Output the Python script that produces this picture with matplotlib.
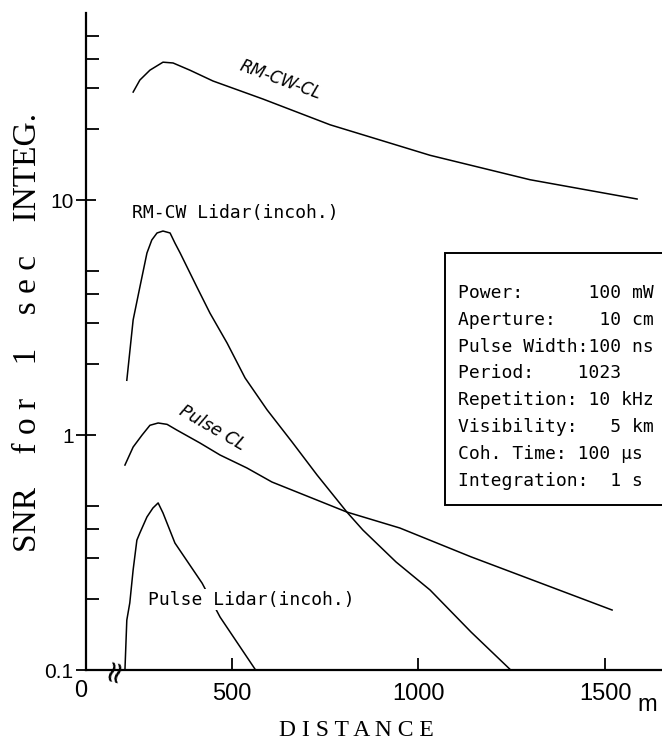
import matplotlib
matplotlib.use("Agg")
import matplotlib.pyplot as plt
from matplotlib.patches import Rectangle
from matplotlib.ticker import FixedLocator, LogLocator, NullFormatter
import matplotlib.transforms as mtransforms

# distance (m) / SNR
rmcwcl_x = [235, 253, 280, 315, 342, 387, 449, 583, 763, 897, 1031, 1299, 1586]
rmcwcl_y = [28.8, 32.4, 35.7, 38.6, 38.3, 35.7, 32.1, 26.9, 20.9, 18.0, 15.5, 12.2, 10.1]

rmcw_x = [218, 235, 253, 272, 285, 299, 315, 334, 347, 361, 406, 441, 487, 535, 594,
          661, 728, 808, 851, 940, 1031, 1141, 1253]
rmcw_y = [1.71, 3.09, 4.26, 5.95, 6.76, 7.24, 7.38, 7.24, 6.56, 5.95, 4.26, 3.30, 2.46, 1.75, 1.28,
          0.934, 0.676, 0.47, 0.394, 0.288, 0.219, 0.145, 0.098]

pcl_x = [213, 235, 259, 280, 302, 326, 352, 414, 468, 540, 607, 808, 950, 1141, 1519]
pcl_y = [0.745, 0.889, 1.0, 1.10, 1.125, 1.11, 1.05, 0.925, 0.822, 0.724, 0.631, 0.470, 0.402, 0.303, 0.180]

pl_x = [213, 218, 226, 235, 245, 253, 272, 288, 302, 315, 347, 420, 468, 567]
pl_y = [0.1, 0.163, 0.193, 0.267, 0.357, 0.383, 0.448, 0.489, 0.514, 0.466, 0.347, 0.234, 0.168, 0.098]

yticks = [0.1, 1, 10]
ytick_labels = ["0.1", "1", "10"]
xticks = [500, 1000, 1500]
xtick_labels = ["500", "1000", "1500"]

info_lines = ["Power:      100 mW",
              "Aperture:    10 cm",
              "Pulse Width:100 ns",
              "Period:    1023",
              "Repetition: 10 kHz",
              "Visibility:   5 km",
              "Coh. Time: 100 \u03bcs",
              "Integration:  1 s"]

mono = "DejaVu Sans Mono"
serif = "Liberation Serif"
sans = "Liberation Sans"

fig = plt.figure(figsize=(6.62, 7.44), dpi=100)
ax = fig.add_axes([86/662, 74/744, 576/662, 657/744])

lw = 1.1
ax.plot(rmcwcl_x, rmcwcl_y, color="black", lw=lw)
ax.plot(rmcw_x, rmcw_y, color="black", lw=lw)
ax.plot(pcl_x, pcl_y, color="black", lw=lw)
ax.plot(pl_x, pl_y, color="black", lw=lw)

ax.set_yscale("log")
ax.set_xlim(108.6, 1652.8)
ax.set_ylim(0.1, 62.5)

for s in ["top", "right"]:
    ax.spines[s].set_visible(False)
for s in ["left", "bottom"]:
    ax.spines[s].set_linewidth(1.6)

ax.yaxis.set_major_locator(FixedLocator(yticks))
ax.set_yticklabels(ytick_labels, fontfamily=sans, fontsize=15)
ax.yaxis.set_minor_locator(LogLocator(base=10, subs=(2, 3, 4, 5)))
ax.yaxis.set_minor_formatter(NullFormatter())
ax.tick_params(axis="y", which="major", direction="inout", length=14, width=1.3, pad=2)
ax.tick_params(axis="y", which="minor", direction="in", length=9, width=1.3)

ax.set_xticks(xticks)
ax.set_xticklabels(xtick_labels, fontfamily=sans, fontsize=17)
ax.tick_params(axis="x", which="major", direction="in", length=9, width=1.3, pad=9)

# curve labels
ax.text(631, 32.4, "RM-CW-CL", rotation=-20, fontsize=12, style="italic",
        fontfamily="DejaVu Sans", ha="center", va="center")
ax.text(232, 8.8, "RM-CW Lidar(incoh.)", fontsize=13, fontfamily=mono,
        ha="left", va="center")
ax.text(446, 1.07, "Pulse CL", rotation=-30, fontsize=12.5, style="italic",
        fontfamily="DejaVu Sans", ha="center", va="center")
ax.text(275, 0.199, "Pulse Lidar(incoh.)", fontsize=13, fontfamily=mono,
        ha="left", va="center",
        bbox=dict(facecolor="white", edgecolor="none", pad=1))

# axis break and origin label
bt = mtransforms.blended_transform_factory(ax.transData, ax.transAxes)
ax.text(186, 0.0, "\u2248", rotation=75, fontsize=22, ha="center", va="center",
        transform=bt, clip_on=False)
ax.text(-0.009, -0.032, "0", fontfamily=sans, fontsize=17, ha="center", va="center",
        transform=ax.transAxes)
ax.text(1612, -0.053, "m", fontfamily=sans, fontsize=17, ha="center", va="center",
        transform=bt)

fig.text(28/662, 1 - 332/744, "SNR    f o r    1    s e c    INTEG.", rotation=90,
         fontfamily=serif, fontsize=24, ha="center", va="center")
fig.text(356/662, 1 - 730/744, "D I S T A N C E", fontfamily=serif, fontsize=17,
         ha="center", va="center")

# parameter box
fig.add_artist(Rectangle((445/662, 1 - 505/744), 0.4, 252/744, transform=fig.transFigure,
                         facecolor="white", edgecolor="black", lw=1.4))
for i, line in enumerate(info_lines):
    fig.text(458/662, 1 - (293 + i*26.8)/744, line, fontfamily=mono, fontsize=13,
             ha="left", va="center")

fig.savefig("out.png", dpi=100)
